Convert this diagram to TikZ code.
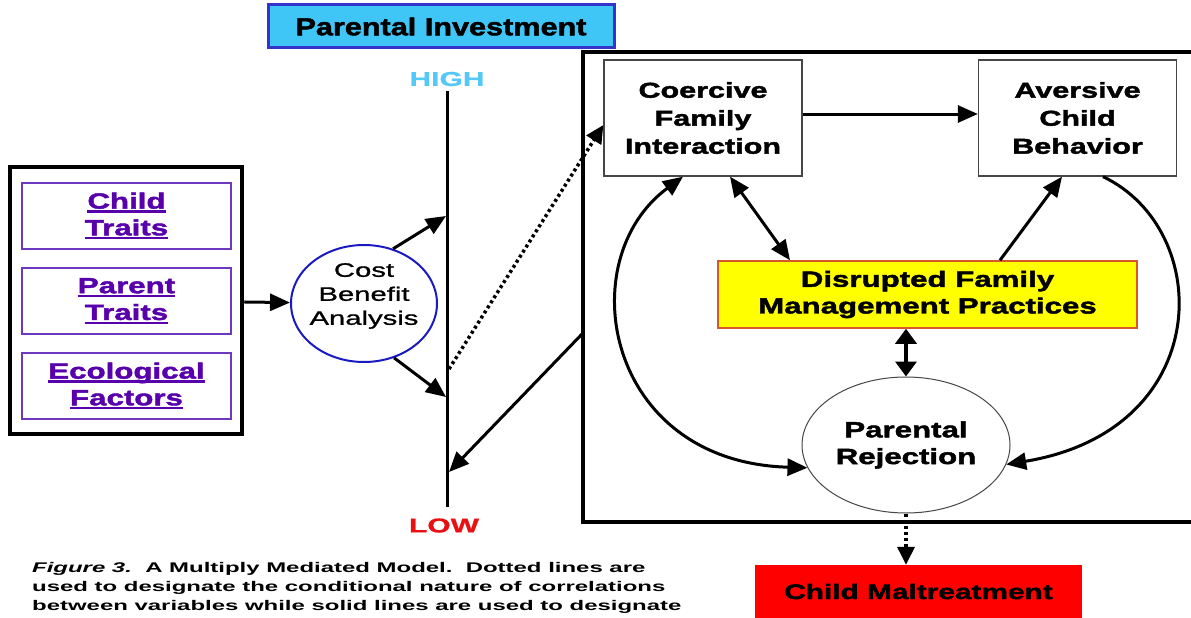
\documentclass[tikz,border=0pt]{standalone}
\usepackage{fontspec}
\setmainfont{Liberation Sans}
\newfontfamily\TitleFont{Liberation Sans}[FakeStretch=1.25,FakeBold=2]
\newfontfamily\LabelFont{Liberation Sans}[FakeStretch=1.42,FakeBold=2]
\newfontfamily\WideFont{Liberation Sans}[FakeStretch=1.5,FakeBold=1]
\newfontfamily\CaptionFont{Liberation Sans}[FakeStretch=1.71]
\usetikzlibrary{arrows.meta,shapes.geometric}

\definecolor{titlecyan}{RGB}{64,198,246}
\definecolor{titleblue}{RGB}{52,52,204}
\definecolor{highcyan}{RGB}{84,200,246}
\definecolor{lowred}{RGB}{232,16,16}
\definecolor{factorpurple}{RGB}{88,0,172}
\definecolor{factorline}{RGB}{112,56,190}
\definecolor{cbablue}{RGB}{26,26,196}
\definecolor{boxgray}{RGB}{70,70,70}
\definecolor{mgmtyellow}{RGB}{255,255,0}
\definecolor{mgmtline}{RGB}{214,88,40}
\definecolor{maltred}{RGB}{255,0,0}

\newcommand\fsz[2]{\fontsize{#1}{#2}\selectfont}
\newsavebox\ulbox
\newcommand\ulbar[1]{\sbox\ulbox{#1}\rlap{\rule[-4pt]{\wd\ulbox}{2.2pt}}\usebox\ulbox}

\begin{document}
\begin{tikzpicture}[x=1pt,y=-1pt,
  arr/.style={line width=3pt,-{Triangle[length=20pt,width=17pt]}},
  darr/.style={line width=3pt,{Triangle[length=20pt,width=17pt]}-{Triangle[length=20pt,width=17pt]}},
  darrwide/.style={line width=3.5pt,{Triangle[length=15pt,width=21pt]}-{Triangle[length=15pt,width=21pt]}},
  dotarr/.style={line width=3.5pt,dash pattern=on 3pt off 3pt,-{Triangle[length=18pt,width=17pt]}},
  titlebox/.style={draw=titleblue,fill=titlecyan,line width=3pt,minimum width=346pt,minimum height=43pt,inner sep=0pt,font=\TitleFont\bfseries\fsz{24.5}{28}},
  factorbox/.style={draw=factorline,line width=1.3pt,minimum width=209pt,minimum height=66pt,inner sep=0pt,align=center,text=factorpurple,font=\LabelFont\bfseries\fsz{22}{26.7}},
  box/.style={draw=boxgray,line width=1.3pt,fill=white,minimum width=198pt,minimum height=116pt,inner sep=0pt,align=center,font=\LabelFont\bfseries\fsz{21.5}{28}},
  scaletext/.style={inner sep=0pt,font=\WideFont\bfseries\fsz{20}{24}},
]
\useasboundingbox (0,0) rectangle (1191,618);
\fill[white] (0,0) rectangle (1191,618);

% heading and the investment axis
\node[titlebox] (title) at (441,26.5) {Parental Investment};
\node[scaletext,text=highcyan] (high) at (447,79) {HIGH};
\node[scaletext,text=lowred] (low) at (444,525.5) {LOW};
\coordinate (axTop) at (447.5,91);
\coordinate (axBot) at (447.5,507);
\draw[line width=3pt] (axTop) -- (axBot);

% antecedent factors
\node[draw,line width=4.5pt,minimum width=232pt,minimum height=267pt,inner sep=0pt] (factors) at (126,300.5) {};
\node[factorbox] (child) at (126.5,216) {\ulbar{Child}\\\ulbar{Traits}};
\node[factorbox] (parent) at (126.5,301) {\ulbar{Parent}\\\ulbar{Traits}};
\node[factorbox] (eco) at (126.5,386) {\ulbar{Ecological}\\\ulbar{Factors}};

% cost benefit analysis
\node[ellipse,draw=cbablue,line width=2pt,minimum width=146pt,minimum height=117pt,inner sep=0pt] (cba) at (364,303.5) {};
\node[align=center,inner sep=0pt,font=\WideFont\fsz{19.5}{24}] (cbatext) at (364,296) {Cost\\Benefit\\Analysis};
\draw[arr] (factors) -- (cba);
\coordinate (hiIn) at (446,216);
\coordinate (loIn) at (446,397);
\draw[arr] (cba.62) -- (hiIn);
\draw[arr] (cba.-61) -- (loIn);

% mediated family process
\node[draw,line width=4pt,minimum width=620pt,minimum height=470pt,inner sep=0pt] (frame) at (893,287) {};
\node[box] (coercive) at (703,118) {Coercive\\Family\\Interaction};
\node[box] (aversive) at (1077.5,118) {Aversive\\Child\\Behavior};
\node[draw=mgmtline,fill=mgmtyellow,line width=1.5pt,minimum width=419pt,minimum height=67pt,inner sep=0pt,align=center,font=\LabelFont\bfseries\fsz{22}{26.7}] (mgmt) at (927.5,294.5) {Disrupted Family\\Management Practices};
\node[ellipse,draw=boxgray,line width=1pt,minimum width=208pt,minimum height=136pt,inner sep=0pt,align=center,font=\LabelFont\bfseries\fsz{22}{26.7}] (reject) at (906,445) {Parental\\Rejection};
\node[fill=maltred,minimum width=327pt,minimum height=53pt,inner sep=0pt,font=\LabelFont\bfseries\fsz{21}{26}] (maltreat) at (918.5,591.5) {Child Maltreatment};

\coordinate (dotFoot) at (449,369);
\draw[dotarr] (dotFoot) -- ([yshift=-7pt]coercive.west);
\coordinate (frameOut) at (583,333);
\coordinate (lowIn) at (449,472);
\draw[arr] (frameOut) -- (lowIn);

\draw[arr] ([yshift=4pt]coercive.east) -- ([yshift=4pt]aversive.west);
\draw[darr] ([xshift=27pt]coercive.south) -- ([xshift=-137.5pt]mgmt.north);
\draw[arr] ([xshift=72.5pt]mgmt.north) -- ([xshift=-15.5pt]aversive.south);
\draw[darrwide] (reject.north |- mgmt.south) -- (reject.north);
\draw[darr] ([xshift=-20pt]coercive.south) .. controls (570,260) and (605,462) .. (reject.193);
\draw[arr] ([xshift=25.5pt]aversive.south) .. controls (1215,230) and (1215,430) .. (reject.-11);
\draw[dotarr] (reject.south) -- (reject.south |- maltreat.north);

% caption (three lines, base anchor sits on the last line)
\node[anchor=base west,align=left,inner sep=0pt,font=\CaptionFont\bfseries\fsz{14}{19}] (caption) at (32,610) {\textit{Figure 3.}\ \ A Multiply Mediated Model.\ \ Dotted lines are\\used to designate the conditional nature of correlations\\between variables while solid lines are used to designate};
\end{tikzpicture}
\end{document}
